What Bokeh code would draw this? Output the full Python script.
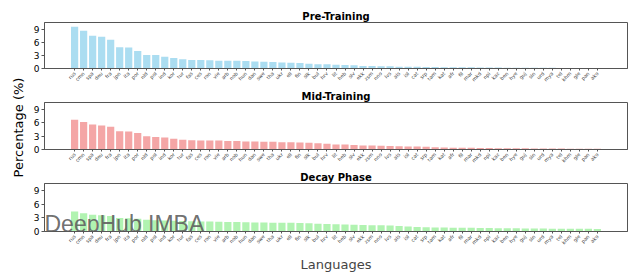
import math
from bokeh.plotting import figure
from bokeh.layouts import column, row
from bokeh.models import Range1d, FixedTicker, Label
from bokeh.core.properties import value
from bokeh.embed import file_html
from bokeh.resources import INLINE

langs = ["rus", "cmn", "spa", "deu", "fra", "jpn", "ita", "por", "nld", "pol",
         "ind", "kor", "tur", "fas", "ces", "ron", "vie", "arb", "nob", "hun",
         "dan", "swe", "tha", "ukr", "ell", "fin", "slk", "bul", "hrv", "lit",
         "heb", "slv", "ekk", "zsm", "nno", "lvs", "als", "isl", "cat", "srp",
         "tam", "kat", "afr", "fil", "mar", "mkd", "npi", "kaz", "ben", "hye",
         "guj", "sin", "urd", "mya", "tel", "khm", "gle", "pan", "ako"]

pre_training = [9.6, 8.7, 7.5, 7.3, 6.6, 4.9, 4.8, 4.0, 3.1, 3.1,
                2.7, 2.4, 2.1, 1.95, 1.95, 1.9, 1.8, 1.8, 1.8, 1.7,
                1.6, 1.55, 1.5, 1.35, 1.3, 1.25, 1.1, 1.0, 1.0, 0.85,
                0.8, 0.75, 0.6, 0.58, 0.5, 0.5, 0.42, 0.4, 0.38, 0.35,
                0.33, 0.3, 0.3, 0.28, 0.26, 0.25, 0.23, 0.22, 0.2, 0.19,
                0.18, 0.17, 0.16, 0.15, 0.14, 0.13, 0.12, 0.11, 0.1]

mid_training = [6.7, 6.2, 5.65, 5.4, 5.1, 4.1, 4.05, 3.7, 3.0, 2.8,
                2.7, 2.4, 2.2, 2.1, 2.0, 2.0, 2.0, 1.9, 1.9, 1.8,
                1.8, 1.75, 1.75, 1.65, 1.65, 1.6, 1.5, 1.4, 1.3, 1.15,
                1.1, 1.0, 0.9, 0.88, 0.85, 0.8, 0.75, 0.7, 0.65, 0.6,
                0.5, 0.45, 0.42, 0.4, 0.38, 0.35, 0.33, 0.3, 0.3, 0.28,
                0.26, 0.25, 0.23, 0.22, 0.2, 0.19, 0.18, 0.17, 0.15]

decay_phase = [4.4, 4.0, 3.7, 3.6, 3.4, 3.0, 2.9, 2.8, 2.6, 2.5,
               2.4, 2.35, 2.3, 2.25, 2.2, 2.2, 2.15, 2.1, 2.1, 2.05,
               2.0, 2.0, 1.95, 1.95, 1.9, 1.85, 1.8, 1.7, 1.65, 1.6,
               1.55, 1.5, 1.45, 1.4, 1.35, 1.3, 1.2, 1.1, 1.0, 0.95,
               0.9, 0.88, 0.85, 0.82, 0.8, 0.78, 0.76, 0.74, 0.72, 0.7,
               0.68, 0.66, 0.65, 0.63, 0.62, 0.6, 0.59, 0.58, 0.56]

titles = ["Pre-Training", "Mid-Training", "Decay Phase"]
colors = ["skyblue", "lightcoral", "lightgreen"]
y_ticks = [0, 3, 6, 9]
y_label = "Percentage (%)"
x_label = "Languages"
watermark = "DeepHub IMBA"

n = len(langs)
idx = list(range(n))
x_range = Range1d(-3.34, n + 2.34)
y_range = Range1d(0, 10.57)

FONT = "DejaVu Sans"
SPINE = "#555555"
LEFT_W = 30

# left strip holding the shared y-axis label
side = figure(width=LEFT_W, height=275, x_range=Range1d(0, LEFT_W), y_range=Range1d(0, 275),
              output_backend="svg", toolbar_location=None,
              min_border=0, min_border_left=0, min_border_right=0,
              min_border_top=0, min_border_bottom=0)
side.axis.visible = False
side.grid.visible = False
side.outline_line_color = None
side.border_fill_color = "white"
side.background_fill_color = "white"
side.text(x=[18], y=[275 - 127], text=[y_label], angle=math.pi / 2,
          text_font=value(FONT), text_font_size="13px", text_color="black",
          text_align="center", text_baseline="middle")

specs = [(pre_training, 87, 22, 16), (mid_training, 81, 15, 17), (decay_phase, 107, 15, 43)]
figs = []
for k, (vals, h, bt, bb) in enumerate(specs):
    p = figure(width=640 - LEFT_W, height=h, x_range=x_range, y_range=y_range,
               output_backend="svg", toolbar_location=None,
               min_border_left=44 - LEFT_W, min_border_right=13,
               min_border_top=bt, min_border_bottom=bb)
    p.vbar(x=idx, top=vals, width=0.8, fill_color=colors[k], fill_alpha=0.7, line_color=None)
    p.grid.visible = False
    p.outline_line_color = SPINE
    p.outline_line_width = 1
    p.background_fill_color = "white"
    p.border_fill_color = "white"

    p.title.text = titles[k]
    p.title.align = "center"
    p.title.text_font = FONT
    p.title.text_font_style = "bold"
    p.title.text_font_size = "10px"
    p.title.text_color = "black"
    p.title.standoff = 1

    p.xaxis.ticker = FixedTicker(ticks=idx, minor_ticks=[])
    p.xaxis.major_label_overrides = {i: l for i, l in zip(idx, langs)}
    p.xaxis.major_label_orientation = math.pi / 4
    p.xaxis.major_label_text_font_size = "5px"
    p.xaxis.major_label_text_font = FONT
    p.xaxis.major_label_standoff = 2
    p.xaxis.major_tick_out = 2
    p.xaxis.major_tick_in = 0
    p.xaxis.minor_tick_line_color = None
    p.xaxis.axis_line_color = SPINE
    p.xaxis.major_tick_line_color = SPINE

    p.yaxis.ticker = FixedTicker(ticks=y_ticks, minor_ticks=[])
    p.yaxis.major_label_text_font_size = "9px"
    p.yaxis.major_label_text_font = FONT
    p.yaxis.major_label_text_color = "black"
    p.yaxis.major_label_standoff = 2
    p.yaxis.major_tick_out = 3
    p.yaxis.major_tick_in = 0
    p.yaxis.minor_tick_line_color = None
    p.yaxis.axis_line_color = SPINE
    p.yaxis.major_tick_line_color = SPINE
    figs.append(p)

figs[2].xaxis.axis_label = x_label
figs[2].xaxis.axis_label_text_font = FONT
figs[2].xaxis.axis_label_text_font_size = "13px"
figs[2].xaxis.axis_label_text_font_style = "normal"
figs[2].xaxis.axis_label_standoff = 7

figs[2].add_layout(Label(x=0, y=21, x_units="screen", y_units="screen",
                         text=watermark, text_font="Liberation Sans",
                         text_font_size="23px", text_color="#5e5e5e", text_alpha=0.9,
                         text_baseline="top"))

layout = row(side, column(*figs, spacing=0), spacing=0)
open("out.html", "w").write(file_html(layout, INLINE))
